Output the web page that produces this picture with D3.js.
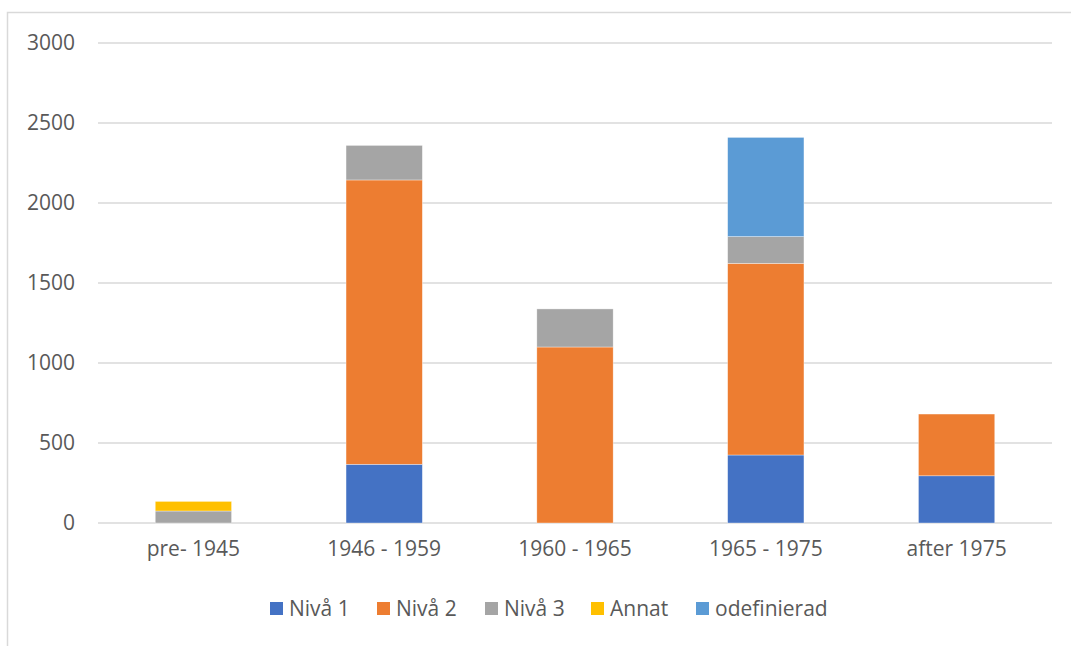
<!DOCTYPE html>
<html>
<head>
<meta charset="utf-8">
<script src="https://cdn.jsdelivr.net/npm/d3@7"></script>
<style>
  html, body { margin: 0; padding: 0; background: #fff; }
  svg { display: block; }
  text { font-family: "Open Sans", "Noto Sans", sans-serif; fill: #595959; }
</style>
</head>
<body>
<svg id="chart" width="1071" height="646"></svg>
<script>
const categories = ["pre- 1945", "1946 - 1959", "1960 - 1965", "1965 - 1975", "after 1975"];
const seriesNames = ["Nivå 1", "Nivå 2", "Nivå 3", "Annat", "odefinierad"];
const niva1 = [0, 367, 0, 425, 295];
const niva2 = [0, 1777, 1100, 1198, 386];
const niva3 = [75, 216, 238, 167, 0];
const annat = [60, 0, 0, 0, 0];
const odefinierad = [0, 0, 0, 620, 0];
const yTicks = [0, 500, 1000, 1500, 2000, 2500, 3000];
const colors = ["#4472C4", "#ED7D31", "#A5A5A5", "#FFC000", "#5B9BD5"];

const seriesValues = [niva1, niva2, niva3, annat, odefinierad];
const table = categories.map((c, i) => {
  const row = { cat: c };
  seriesNames.forEach((s, j) => row[s] = seriesValues[j][i]);
  return row;
});

const svg = d3.select("#chart");

// chart frame (only top and left visible)
svg.append("rect")
  .attr("x", 7.5).attr("y", 12.5)
  .attr("width", 1100).attr("height", 700)
  .attr("fill", "none").attr("stroke", "#d9d9d9").attr("stroke-width", 1.5);

const plotLeft = 98, plotRight = 1052, plotTop = 43, plotBottom = 523;
const x = d3.scaleBand().domain(categories).range([plotLeft, plotRight]).paddingInner(0.6).paddingOuter(0.3);
const y = d3.scaleLinear().domain([0, 3000]).range([plotBottom, plotTop]);

// gridlines
svg.append("g").selectAll("line").data(yTicks).join("line")
  .attr("x1", plotLeft).attr("x2", plotRight)
  .attr("y1", d => y(d)).attr("y2", d => y(d))
  .attr("stroke", "#d9d9d9").attr("stroke-width", 1.3);

// y axis labels
const yAxis = d3.axisLeft(y).tickValues(yTicks).tickFormat(d3.format("d")).tickSize(0).tickPadding(0);
const gy = svg.append("g").attr("transform", `translate(${plotLeft - 23},0)`).call(yAxis);
gy.select(".domain").remove();
gy.selectAll("text").style("font-size", "21px").attr("fill", "#595959")
  .style("font-family", '"Open Sans", sans-serif');

// stacked bars
const stack = d3.stack().keys(seriesNames)(table);
svg.append("g").selectAll("g").data(stack).join("g")
  .attr("fill", (d, i) => colors[i])
  .selectAll("rect").data(d => d.filter(p => p[1] - p[0] > 0)).join("rect")
  .attr("x", d => x(d.data.cat))
  .attr("width", x.bandwidth())
  .attr("y", d => y(d[1]))
  .attr("height", d => y(d[0]) - y(d[1]))
  .attr("stroke", "#ffffff").attr("stroke-width", 0.6).attr("stroke-opacity", 0.6);

// x axis labels
const xAxis = d3.axisBottom(x).tickSize(0).tickPadding(0);
const gx = svg.append("g").attr("transform", `translate(0,${plotBottom + 18})`).call(xAxis);
gx.select(".domain").remove();
gx.selectAll("text").style("font-size", "21px").attr("fill", "#595959")
  .style("font-family", '"Open Sans", sans-serif');

// legend
const legendX = [270, 377, 485, 591, 696];
const lg = svg.append("g").selectAll("g").data(seriesNames).join("g")
  .attr("transform", (d, i) => `translate(${legendX[i]},602)`);
lg.append("rect").attr("width", 13).attr("height", 13).attr("fill", (d, i) => colors[i]);
lg.append("text").attr("x", 19).attr("y", 14).text(d => d)
  .style("font-size", "21px");
</script>
</body>
</html>
